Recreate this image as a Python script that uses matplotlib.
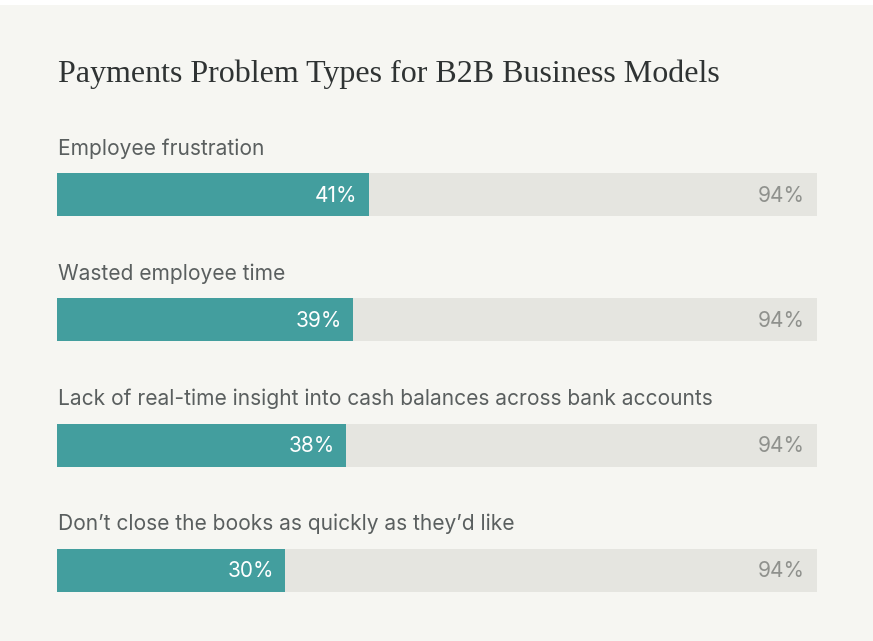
import matplotlib
matplotlib.use("Agg")
import matplotlib.pyplot as plt
from matplotlib.patches import Rectangle

# survey results, percent of respondents
categories = [
    "Employee frustration",
    "Wasted employee time",
    "Lack of real-time insight into cash balances across bank accounts",
    "Don\u2019t close the books as quickly as they\u2019d like",
]
values = [41, 39, 38, 30]
totals = [94, 94, 94, 94]
title = "Payments Problem Types for B2B Business Models"

BG = "#f6f6f2"
TEAL = "#439e9e"
TRACK = "#e5e5e0"
LABEL = "#5a5f5f"
MUTED = "#8f918d"
TITLE = "#2f3333"

W, H = 873, 641
fig = plt.figure(figsize=(W / 100, H / 100), dpi=100, facecolor=BG)
# thin white band along the top edge
fig.patches.append(Rectangle((0, 1 - 5 / H), 1, 5 / H, transform=fig.transFigure,
                             facecolor="white", edgecolor="none", zorder=0))

ax = fig.add_axes([57 / W, 0, 760 / W, 1])
ax.set_facecolor("none")
step = 125.33  # px between bar centres
top = -194.5 / step
bottom = len(categories) - 1 + (H - 570.5) / step
ax.set_xlim(0, 100)
ax.set_ylim(bottom, top)
ax.axis("off")

ypos = list(range(len(categories)))
bh = 43 / step
ax.barh(ypos, [100] * len(ypos), height=bh, color=TRACK, zorder=1)
ax.barh(ypos, values, height=bh, color=TEAL, zorder=2)

px = 100 / 760  # one pixel in data units
for y, name, v, t in zip(ypos, categories, values, totals):
    ax.text(0.1, y - (194.5 - 154.5) / step, name, ha="left", va="baseline",
            fontsize=15.1, color=LABEL, family="Inter")
    ax.text(v - 11 * px, y + 1 / step, f"{v}%", ha="right", va="center",
            fontsize=15, color="white", family="Inter", zorder=3)
    ax.text(100 - 12 * px, y + 1 / step, f"{t}%", ha="right", va="center",
            fontsize=15, color=MUTED, family="Inter", zorder=3)

ax.text(0.1, -(194.5 - 81.5) / step, title, ha="left", va="baseline",
        fontsize=23, color=TITLE, family="Liberation Serif")

fig.savefig("out.png", dpi=100, facecolor=BG)
